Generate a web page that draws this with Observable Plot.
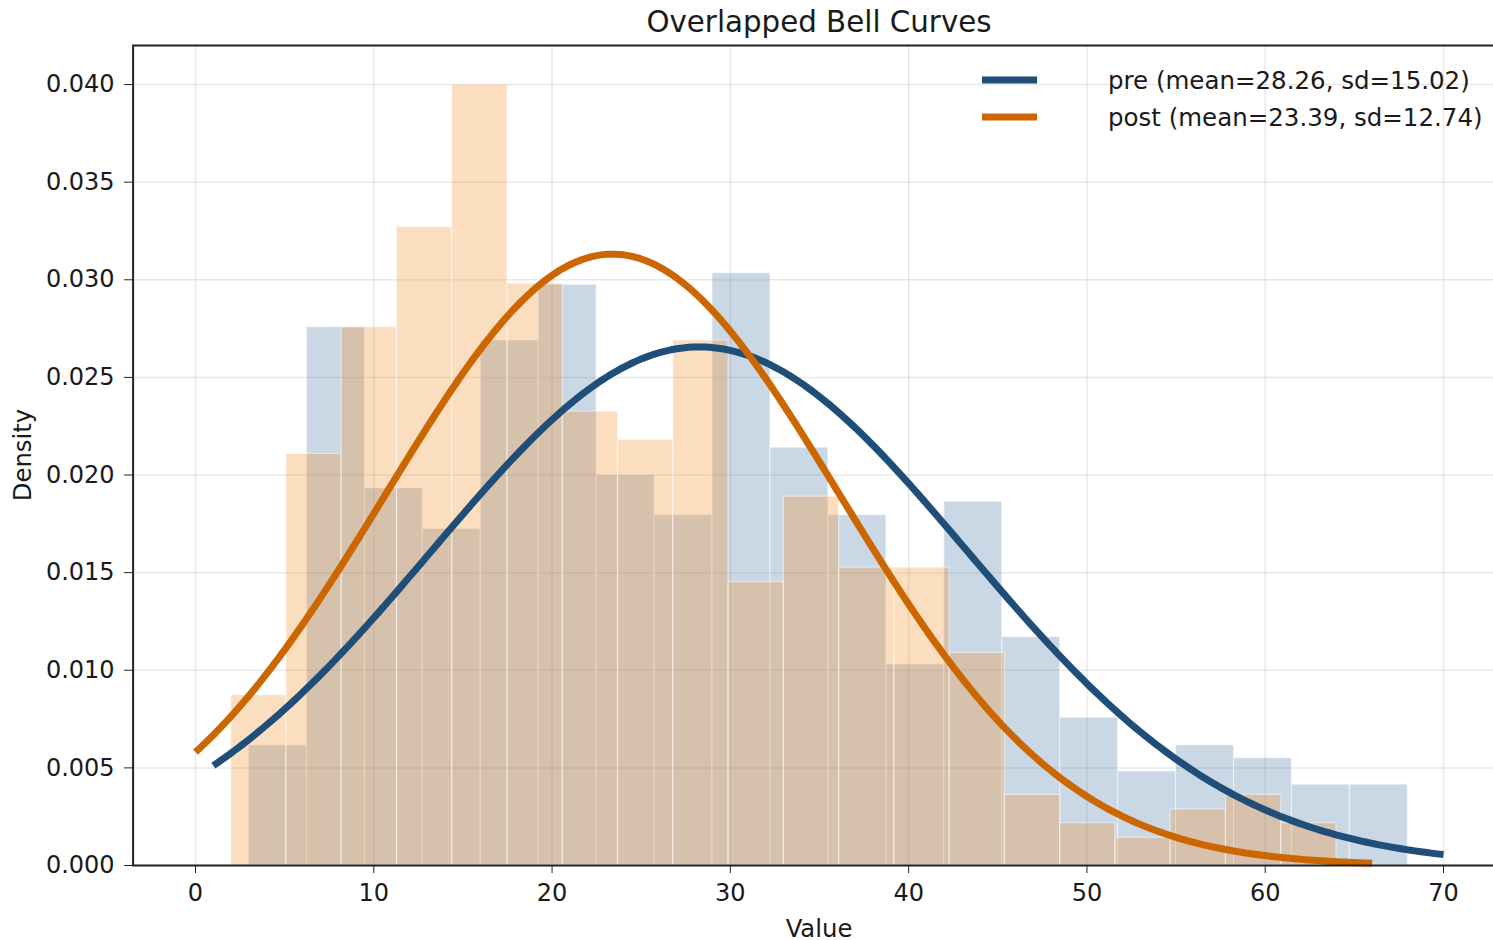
<!DOCTYPE html>
<html><head><meta charset="utf-8">
<script src="https://cdn.jsdelivr.net/npm/d3@7"></script>
<script src="https://cdn.jsdelivr.net/npm/@observablehq/plot@0.6"></script>
<style>
html,body{margin:0;padding:0;background:#fff;overflow:hidden;width:1493px;height:940px;}
#wrap{position:relative;width:1520px;height:940px;font-family:"DejaVu Sans",sans-serif;color:#1a1a1a;}
#title{position:absolute;left:0;width:1638px;top:0;height:44px;line-height:44px;text-align:center;font-size:29.3px;}
#chart{position:absolute;left:0;top:43px;}
#ylabel{position:absolute;left:22px;top:455px;transform:translate(-50%,-50%) rotate(-90deg);font-size:24.3px;white-space:nowrap;}
#xlabel{position:absolute;left:819px;top:928px;transform:translate(-50%,-50%);font-size:24.3px;white-space:nowrap;}
.lg-h{position:absolute;left:982px;width:55px;height:7px;transform:translateY(-50%);}
.lg-t{position:absolute;left:1108px;transform:translateY(-50%);font-size:24.5px;white-space:nowrap;}
</style></head>
<body>
<div id="wrap">
  <div id="title">Overlapped Bell Curves</div>
  <div id="chart"></div>
  <div id="ylabel">Density</div>
  <div id="xlabel">Value</div>
  <div id="legend"></div>
</div>
<script>
// ---- data ----
const seriesNames = ["pre", "post"];
const means = [28.26, 23.39];
const sds = [15.02, 12.74];
const preRange = [3, 68];     // histogram extent (20 bins)
const postRange = [2, 64];
const preDensity = [0.00615, 0.02757, 0.01932, 0.01723, 0.02689, 0.02974, 0.0200, 0.01795, 0.03034, 0.0214,
                    0.01795, 0.0103, 0.01863, 0.0117, 0.00757, 0.00482, 0.00615, 0.0055, 0.00414, 0.00414];
const postDensity = [0.00872, 0.02108, 0.02757, 0.0327, 0.0400, 0.0298, 0.02325, 0.0218, 0.02689, 0.01451,
                     0.01889, 0.01526, 0.01526, 0.01089, 0.00362, 0.00217, 0.00142, 0.00287, 0.00362, 0.00217];
const preCurveRange = [1, 70];
const postCurveRange = [0, 66];
const xTicks = [0, 10, 20, 30, 40, 50, 60, 70];
const yTicks = [0, 0.005, 0.010, 0.015, 0.020, 0.025, 0.030, 0.035, 0.040];
const histColors = ["#4e79a7", "#f28e2b"];
const lineColors = ["#1f4e79", "#cc6600"];

// ---- build tables ----
function bins(range, dens) {
  const n = dens.length, w = (range[1] - range[0]) / n;
  return dens.map((d, i) => ({x1: range[0] + i * w, x2: range[0] + (i + 1) * w, d}));
}
function normalCurve(range, mean, sd) {
  const pts = [], n = 300;
  for (let i = 0; i <= n; i++) {
    const x = range[0] + (range[1] - range[0]) * i / n;
    const y = Math.exp(-0.5 * ((x - mean) / sd) ** 2) / (sd * Math.sqrt(2 * Math.PI));
    pts.push({x, y});
  }
  return pts;
}
const preBins = bins(preRange, preDensity);
const postBins = bins(postRange, postDensity);
const preCurve = normalCurve(preCurveRange, means[0], sds[0]);
const postCurve = normalCurve(postCurveRange, means[1], sds[1]);

const chart = Plot.plot({
  width: 1520,
  height: 897,
  marginLeft: 132.6,
  marginRight: 14.6,
  marginTop: 2,
  marginBottom: 75,
  style: {fontFamily: "DejaVu Sans, sans-serif", fontSize: "24px", color: "#1a1a1a", background: "white", overflow: "visible"},
  x: {domain: [-3.5, 73.5]},
  y: {domain: [0, 0.042]},
  marks: [
    Plot.gridX(xTicks, {stroke: "#000", strokeOpacity: 0.09, strokeWidth: 1.5}),
    Plot.gridY(yTicks, {stroke: "#000", strokeOpacity: 0.09, strokeWidth: 1.5}),
    Plot.rect(preBins, {x1: "x1", x2: "x2", y1: 0, y2: "d", fill: histColors[0], fillOpacity: 0.3,
                        stroke: "white", strokeOpacity: 0.5, strokeWidth: 1.2}),
    Plot.rect(postBins, {x1: "x1", x2: "x2", y1: 0, y2: "d", fill: histColors[1], fillOpacity: 0.3,
                         stroke: "white", strokeOpacity: 0.5, strokeWidth: 1.2}),
    Plot.line(preCurve, {x: "x", y: "y", stroke: lineColors[0], strokeWidth: 7, strokeLinecap: "butt"}),
    Plot.line(postCurve, {x: "x", y: "y", stroke: lineColors[1], strokeWidth: 7, strokeLinecap: "butt"}),
    Plot.axisX(xTicks, {tickSize: 8, tickPadding: 10, label: null, tickFormat: d => String(d), stroke: "#222"}),
    Plot.axisY(yTicks, {tickSize: 8.5, tickPadding: 10, label: null, tickFormat: d3.format(".3f"), stroke: "#222"}),
    Plot.frame({stroke: "#222", strokeWidth: 2})
  ]
});
document.getElementById("chart").appendChild(chart);

// legend
const legend = document.getElementById("legend");
const legendY = [80, 117];
seriesNames.forEach((name, i) => {
  const h = document.createElement("div");
  h.className = "lg-h";
  h.style.top = legendY[i] + "px";
  h.style.background = lineColors[i];
  legend.appendChild(h);
  const t = document.createElement("div");
  t.className = "lg-t";
  t.style.top = legendY[i] + "px";
  t.textContent = `${name} (mean=${means[i].toFixed(2)}, sd=${sds[i].toFixed(2)})`;
  legend.appendChild(t);
});
</script>
</body></html>
